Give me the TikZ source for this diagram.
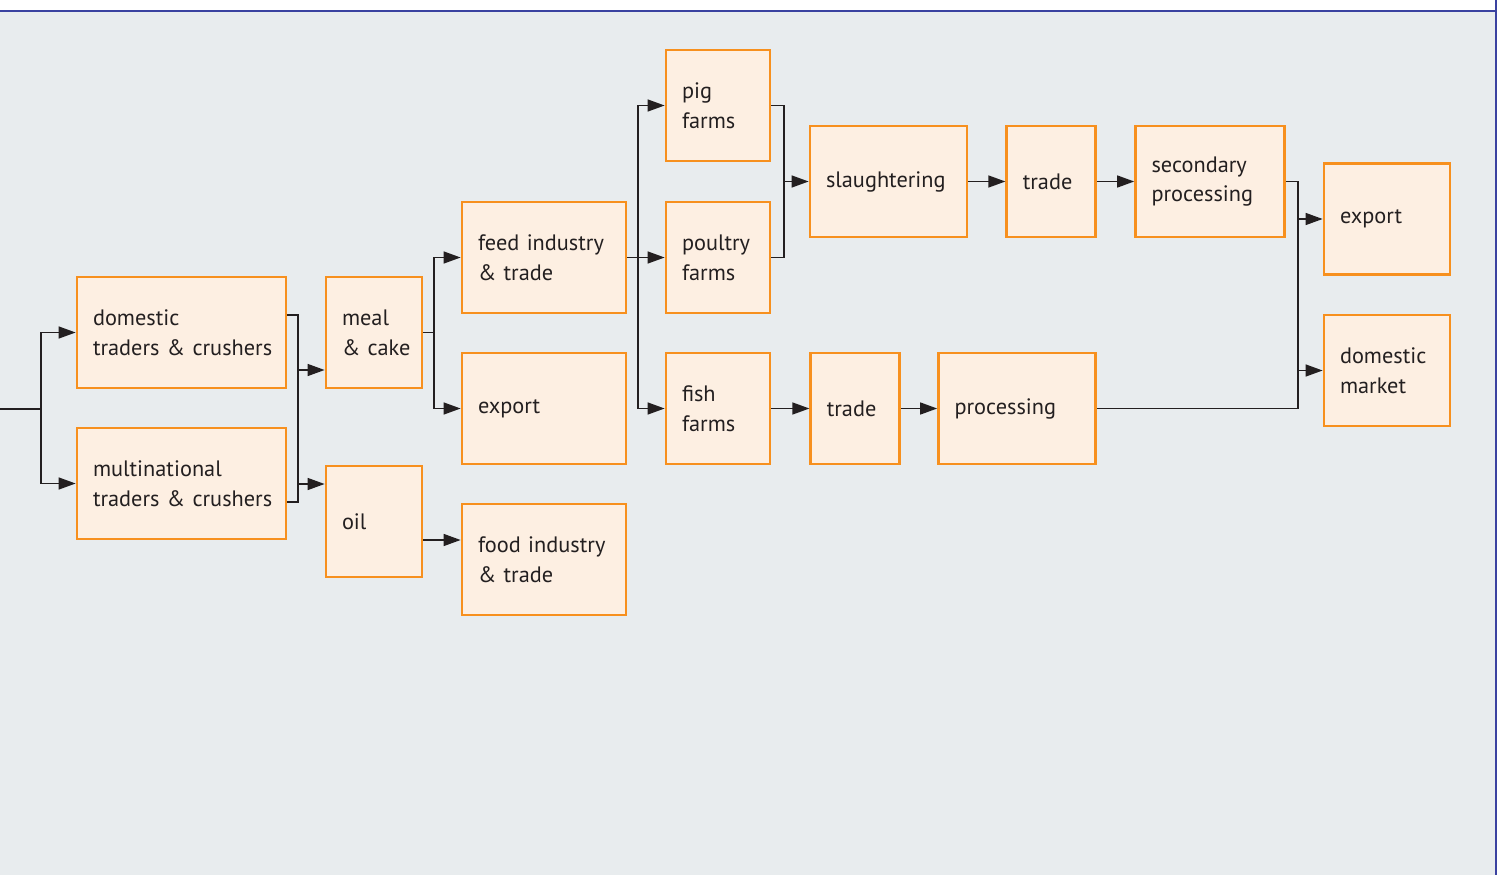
\documentclass[tikz,border=0pt]{standalone}
\usepackage{fontspec}
\setmainfont{PT Sans}[WordSpace=0.7]
\usetikzlibrary{positioning,arrows.meta}
\hyphenpenalty=10000
\hbadness=10000
\hfuzz=1cm

\definecolor{bggrey}{HTML}{E8ECEE}
\definecolor{boxorange}{HTML}{F7901E}
\definecolor{boxfill}{HTML}{FDEFE2}
\definecolor{frameblue}{HTML}{3A42A0}
\definecolor{linkdark}{HTML}{231F20}

\tikzset{
  box/.style={draw=boxorange, fill=boxfill, line width=1.6pt, minimum height=2.22cm,
    inner xsep=0.32cm, align=left, text=linkdark, font=\fontsize{12.7}{17}\selectfont},
  link/.style={draw=linkdark, line width=0.8pt},
  arrow/.style={link, -{Triangle[length=0.34cm,width=0.24cm]}},
}

\begin{document}
\begin{tikzpicture}[x=0.02cm,y=-0.02cm]
% frame and background
\useasboundingbox (0,0) rectangle (1501,875);
\fill[bggrey] (0,11) rectangle (1496,875);
\draw[frameblue, line width=1.2pt] (0,11) -- (1496,11);
\draw[frameblue, line width=1.2pt] (1496,0) -- (1496,875);

% traders
\node[box, text width=3.54cm] (dom) at (181.5,332.5) {domestic\\traders~\&~crushers};
\node[box, text width=3.54cm] (multi) at (181.5,483.5) {multinational\\traders~\&~crushers};

% products
\node[box, text width=1.28cm] (meal) at (374,332.5) {meal\\\&~cake};
\node[box, text width=1.28cm] (oil) at (374,521.5) {oil};

\node[box, text width=2.64cm] (feed) at (544,257.5) {feed~industry\\\&~trade};
\node[box, text width=2.64cm] (exp1) at (544,408.5) {export};
\node[box, text width=2.64cm] (food) at (544,559.5) {food~industry\\\&~trade};

% farms
\node[box, text width=1.44cm] (pig) at (718,105.5) {pig\\farms};
\node[box, text width=1.44cm] (poultry) at (718,257.5) {poultry\\farms};
\node[box, text width=1.44cm] (fish) at (718,408.5) {fish\\farms};

% meat chain
\node[box, text width=2.50cm] (slaught) at (888.5,181.5) {slaughtering};
\node[box, text width=1.14cm, right=0.74cm of slaught] (trade1) {trade};
\node[box, text width=2.34cm, right=0.74cm of trade1] (second) {secondary\\processing};

% fish chain
\node[box, text width=1.14cm, right=0.76cm of fish] (trade2) {trade};
\node[box, text width=2.50cm, right=0.72cm of trade2] (proc) {processing};

% markets
\node[box, text width=1.88cm] (exp2) at (1387,219) {export};
\node[box, text width=1.88cm] (market) at (1387,370.5) {domestic\\market};

% connectors
\coordinate (src) at (0,409);
\coordinate (s1) at (41,409);
\draw[link] (src) -- (s1);
\draw[arrow] (s1) |- (dom);
\draw[arrow] (s1) |- (multi);

\coordinate (s2a) at (298,315);
\coordinate (s2b) at (298,502);
\coordinate (s2m) at (298,370);
\coordinate (s2o) at (298,484);
\draw[link] (dom.east |- s2a) -- (s2a) -- (s2b) -- (multi.east |- s2b);
\draw[arrow] (s2m) -- (s2m -| meal.west);
\draw[arrow] (s2o) -- (s2o -| oil.west);

\coordinate (s3) at (434,332.5);
\draw[link] (meal) -- (s3);
\draw[arrow] (s3) |- (feed);
\draw[arrow] (s3) |- (exp1);
\draw[arrow] ([yshift=-0.37cm]oil.east) -- ([yshift=-0.37cm]oil.east -| food.west);

\coordinate (s4) at (638,257.5);
\draw[link] (feed) -- (s4);
\draw[arrow] (s4) -- (poultry);
\draw[arrow] (s4) |- (pig);
\draw[arrow] (s4) |- (fish);

\coordinate (s5) at (784,181.5);
\draw[link] (pig) -| (s5);
\draw[link] (poultry) -| (s5);
\draw[arrow] (s5) -- (slaught);

\draw[arrow] (slaught) -- (trade1);
\draw[arrow] (trade1) -- (second);
\draw[arrow] (fish) -- (trade2);
\draw[arrow] (trade2) -- (proc);

\coordinate (s7a) at (1298,181.5);
\coordinate (s7b) at (1298,408.5);
\draw[link] (second) -- (s7a) -- (s7b) -- (proc);
\draw[arrow] (s7a |- exp2) -- (exp2);
\draw[arrow] (s7a |- market) -- (market);
\end{tikzpicture}
\end{document}
